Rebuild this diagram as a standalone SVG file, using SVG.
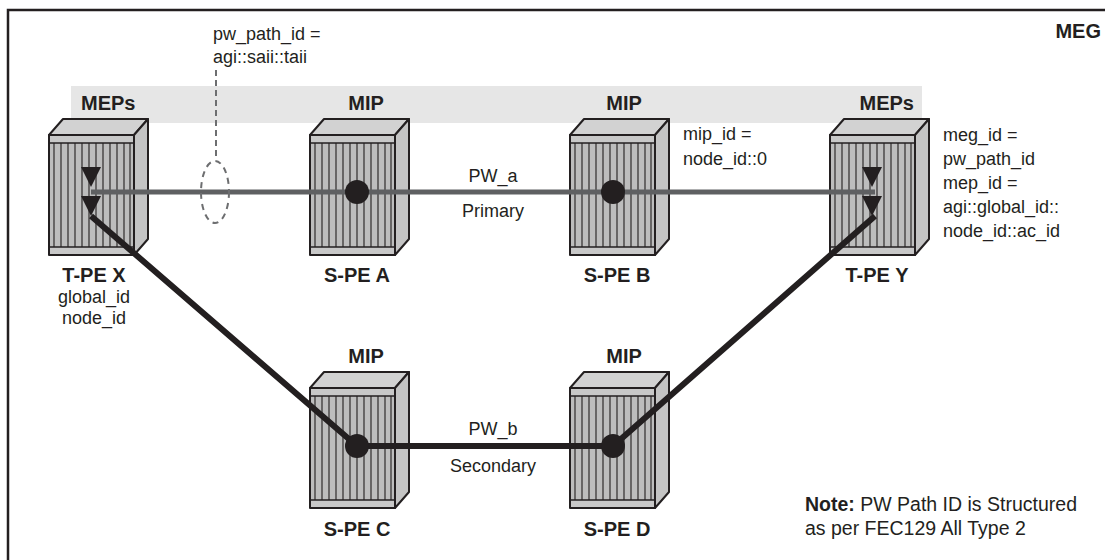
<svg xmlns="http://www.w3.org/2000/svg" xmlns:xlink="http://www.w3.org/1999/xlink" width="1107" height="560" viewBox="0 0 1107 560">
<style>
.t{font-family:"Liberation Sans",Arial,sans-serif;fill:#231f20}
.r{font-size:18px}
.b{font-size:20px;font-weight:bold}
.n{font-size:19.5px}
.c{text-anchor:middle}
.e{text-anchor:end}
.face{stroke:#231f20;stroke-width:2;stroke-linejoin:round}
</style>
<defs>
<g id="box">
<polygon class="face" points="0,0 14,-16 99,-16 85,0" fill="#d2d2d2"/>
<polygon class="face" points="85,0 99,-16 99,104 85,120" fill="#c4c4c4"/>
<rect class="face" x="0" y="0" width="85" height="120" fill="#c8c8c8"/>
<rect x="1" y="8" width="83" height="104" fill="#bdbdbd"/>
<path d="M5,8V112M12,8V112M19,8V112M26,8V112M33,8V112M40,8V112M47,8V112M54,8V112M61,8V112M68,8V112M75,8V112M81,8V112" stroke="#231f20" stroke-width="1.1"/>
<path d="M0,8H85M0,112H85" stroke="#231f20" stroke-width="1.5"/>
</g>
</defs>

<rect x="0" y="0" width="1107" height="560" fill="#ffffff"/>
<path d="M8,560V10H1105" fill="none" stroke="#231f20" stroke-width="2.5"/>
<rect x="71" y="86" width="851" height="37" fill="#e6e6e6"/>

<text class="t b e" x="1101" y="38" font-size="19">MEG</text>
<text class="t b" x="81" y="110">MEPs</text>
<text class="t b e" x="914" y="110">MEPs</text>
<text class="t b c" x="366" y="110">MIP</text>
<text class="t b c" x="624" y="110">MIP</text>

<g id="tpe-x">
<use xlink:href="#box" x="49" y="135"/>
<text class="t b c" x="94" y="282">T-PE X</text>
<text class="t r c" x="94" y="303">global_id</text>
<text class="t r c" x="94" y="324">node_id</text>
</g>
<g id="spe-a">
<use xlink:href="#box" x="310" y="135"/>
<text class="t b c" x="357" y="282">S-PE A</text>
</g>
<g id="spe-b">
<use xlink:href="#box" x="570" y="135"/>
<text class="t b c" x="617" y="282">S-PE B</text>
</g>
<g id="tpe-y">
<use xlink:href="#box" x="830" y="135"/>
<text class="t b c" x="877" y="282">T-PE Y</text>
</g>
<g id="spe-c">
<text class="t b c" x="366" y="363">MIP</text>
<use xlink:href="#box" x="310" y="388"/>
<text class="t b c" x="357" y="536">S-PE C</text>
</g>
<g id="spe-d">
<text class="t b c" x="624" y="363">MIP</text>
<use xlink:href="#box" x="570" y="388"/>
<text class="t b c" x="617" y="536">S-PE D</text>
</g>

<g id="connectors">
<line x1="91" y1="192" x2="875" y2="192" stroke="#5f6062" stroke-width="5"/>
<polyline points="91,216 357,446 613,446 875,216" fill="none" stroke="#231f20" stroke-width="6" stroke-linejoin="round"/>
<line x1="216" y1="70" x2="216" y2="160" stroke="#6d6e70" stroke-width="2" stroke-dasharray="6,4"/>
<ellipse cx="215" cy="192" rx="14" ry="31" fill="none" stroke="#6d6e70" stroke-width="2" stroke-dasharray="6,5"/>
</g>

<g id="points" fill="#231f20">
<circle cx="357" cy="192" r="12"/>
<circle cx="613" cy="192" r="12"/>
<circle cx="357" cy="446" r="12"/>
<circle cx="613" cy="446" r="12"/>
<polygon points="81,167 101,167 91,187"/>
<polygon points="81,196 101,196 91,216"/>
<polygon points="862,167 882,167 872,187"/>
<polygon points="862,196 882,196 872,216"/>
</g>

<text class="t r" x="213" y="40">pw_path_id =</text>
<text class="t r" x="213" y="63">agi::saii::taii</text>
<text class="t r" x="683" y="140">mip_id =</text>
<text class="t r" x="683" y="165">node_id::0</text>
<text class="t r" x="943" y="141">meg_id =</text>
<text class="t r" x="943" y="165">pw_path_id</text>
<text class="t r" x="943" y="189">mep_id =</text>
<text class="t r" x="943" y="213">agi::global_id::</text>
<text class="t r" x="943" y="237">node_id::ac_id</text>
<text class="t r c" x="493" y="182">PW_a</text>
<text class="t r c" x="493" y="217">Primary</text>
<text class="t r c" x="493" y="435">PW_b</text>
<text class="t r c" x="493" y="472">Secondary</text>
<text class="t n" x="805" y="511"><tspan font-weight="bold">Note:</tspan> PW Path ID is Structured</text>
<text class="t n" x="805" y="535">as per FEC129 All Type 2</text>
</svg>
